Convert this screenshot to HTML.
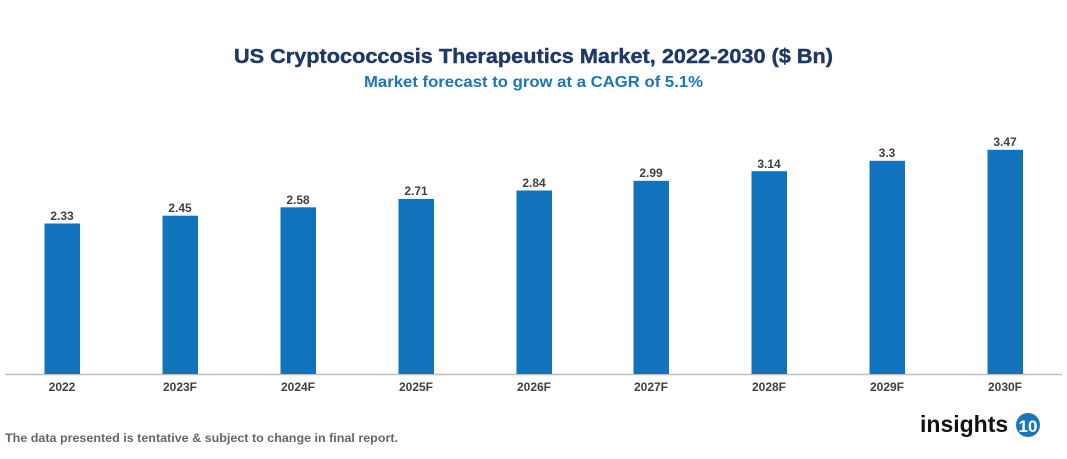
<!DOCTYPE html>
<html><head><meta charset="utf-8"><style>
html,body{margin:0;padding:0;background:#fff;}
body{width:1067px;height:454px;overflow:hidden;font-family:"Liberation Sans",Arial,sans-serif;}
</style></head><body>
<svg width="1067" height="454" viewBox="0 0 1067 454" xmlns="http://www.w3.org/2000/svg" font-family="Liberation Sans, Arial, sans-serif">
<text x="234" y="63" textLength="599" lengthAdjust="spacingAndGlyphs" font-size="20" font-weight="bold" fill="#1f3864" stroke="#1f3864" stroke-width="0.4">US Cryptococcosis Therapeutics Market, 2022-2030 ($ Bn)</text>
<text x="364" y="87" textLength="339" lengthAdjust="spacingAndGlyphs" font-size="15.5" font-weight="bold" fill="#1a75bb">Market forecast to grow at a CAGR of 5.1%</text>
<line x1="5" y1="374.5" x2="1062" y2="374.5" stroke="#bfbfbf" stroke-width="1.5"/>
<g fill="#1273bd">
<rect x="44.5" y="223.5" width="35.5" height="150.5"/>
<rect x="162.5" y="215.7" width="35.5" height="158.3"/>
<rect x="280.5" y="207.3" width="35.5" height="166.7"/>
<rect x="398.5" y="198.9" width="35.5" height="175.1"/>
<rect x="516.5" y="190.5" width="35.5" height="183.5"/>
<rect x="633.5" y="180.8" width="35.5" height="193.2"/>
<rect x="751.5" y="171.2" width="35.5" height="202.8"/>
<rect x="869.5" y="160.8" width="35.5" height="213.2"/>
<rect x="987.5" y="149.8" width="35.5" height="224.2"/>
</g>
<g font-size="12" font-weight="bold" fill="#404040" text-anchor="middle">
<text x="62" y="220">2.33</text>
<text x="180" y="212">2.45</text>
<text x="298" y="204">2.58</text>
<text x="416" y="195">2.71</text>
<text x="534" y="187">2.84</text>
<text x="651" y="177">2.99</text>
<text x="769" y="168">3.14</text>
<text x="887" y="157">3.3</text>
<text x="1005" y="146">3.47</text>
</g>
<g font-size="12" font-weight="bold" fill="#404040" text-anchor="middle">
<text x="62" y="391">2022</text>
<text x="180" y="391">2023F</text>
<text x="298" y="391">2024F</text>
<text x="416" y="391">2025F</text>
<text x="534" y="391">2026F</text>
<text x="651" y="391">2027F</text>
<text x="769" y="391">2028F</text>
<text x="887" y="391">2029F</text>
<text x="1005" y="391">2030F</text>
</g>
<text x="5" y="442" textLength="393" lengthAdjust="spacingAndGlyphs" font-size="12" font-weight="bold" fill="#666">The data presented is tentative &amp; subject to change in final report.</text>
<text x="920" y="432" font-size="23" font-weight="bold" fill="#111">insights</text>
<circle cx="1028" cy="425" r="12" fill="#1a75bb"/>
<text x="1028" y="432" text-anchor="middle" font-size="17" font-weight="bold" fill="#fff">10</text>
</svg>
</body></html>
